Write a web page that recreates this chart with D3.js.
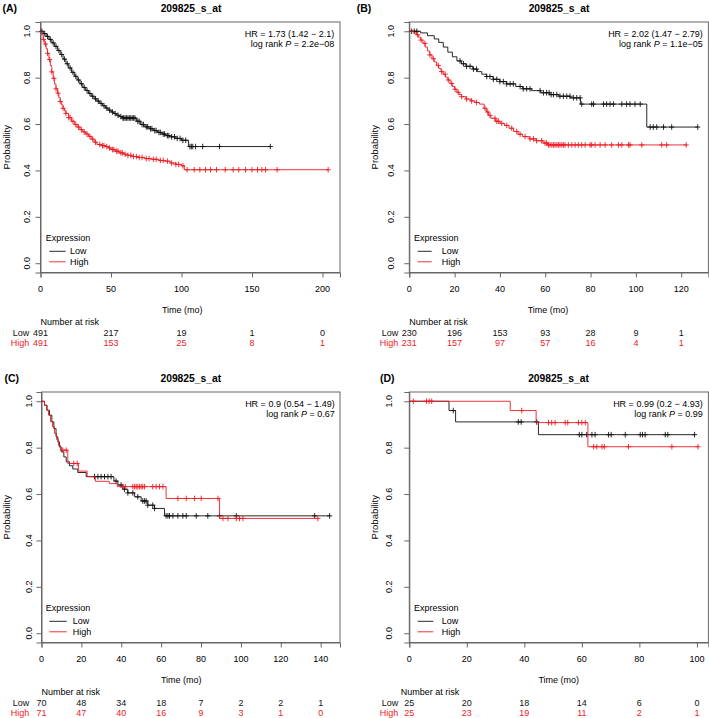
<!DOCTYPE html>
<html><head><meta charset="utf-8">
<script src="https://cdn.jsdelivr.net/npm/d3@7/dist/d3.min.js"></script>
<style>body{margin:0;background:#fff}</style>
</head><body>
<script>
// ---------------- DATA ----------------
const probeTitle = "209825_s_at";
const panelIds = ["A","B","C","D"];
const hrLabels = ["HR = 1.73 (1.42 \u2212 2.1)","HR = 2.02 (1.47 \u2212 2.79)","HR = 0.9 (0.54 \u2212 1.49)","HR = 0.99 (0.2 \u2212 4.93)"];
const pLabels = ["2.2e\u221208","1.1e\u221205","0.67","0.99"];
const groupNames = ["Low","High"];
const yTicks = [0,0.2,0.4,0.6,0.8,1.0];

const xTicksA = [0,50,100,150,200];
const xTicksB = [0,20,40,60,80,100,120];
const xTicksC = [0,20,40,60,80,100,120,140];
const xTicksD = [0,20,40,60,80,100];

const riskLowA = [491,217,19,1,0];
const riskHighA = [491,153,25,8,1];
const riskLowB = [230,196,153,93,28,9,1];
const riskHighB = [231,157,97,57,16,4,1];
const riskLowC = [70,48,34,18,7,2,2,1];
const riskHighC = [71,47,40,16,9,3,1,0];
const riskLowD = [25,20,18,14,6,0];
const riskHighD = [25,23,19,11,2,1];

// survival steps [time, survival after event]
const lowStepsA = [[2,0.99],[4,0.978],[6,0.965],[8,0.95],[10,0.935],[12,0.917],[14,0.9],[16,0.88],[18,0.86],[20,0.842],[22,0.823],[24,0.806],[26,0.79],[28,0.774],[30,0.758],[32,0.745],[34,0.732],[36,0.72],[38,0.709],[40,0.699],[42,0.689],[44,0.679],[46,0.669],[48,0.66],[50,0.652],[52,0.645],[54,0.638],[56,0.632],[58,0.626],[68,0.612],[71,0.598],[74,0.588],[77,0.58],[80,0.572],[83,0.564],[86,0.557],[89,0.55],[92,0.545],[96,0.538],[100,0.53],[105,0.503]];
const lowCensA = [1,3,5,7,9,11,13,15,17,19,21,23,25,27,29,31,33,35,37,39,41,43,45,47,49,51,53,55,57,58.5,59,60,61,62,63,64,65,66,67,69,70,72,73,75,76,78,79,81,82,84,85,87,88,90,91,93,95,97,99,101,103,106,107,108,110,115,127,163];
const highStepsA = [[1,0.985],[2,0.965],[3,0.945],[4,0.925],[5,0.905],[6,0.878],[7,0.852],[8,0.825],[9,0.797],[10,0.772],[11,0.752],[12,0.733],[13,0.714],[14,0.697],[15,0.682],[16,0.668],[17,0.657],[18,0.646],[20,0.628],[22,0.612],[24,0.598],[26,0.587],[28,0.576],[30,0.566],[32,0.557],[34,0.547],[36,0.535],[38,0.522],[40,0.512],[43,0.507],[46,0.503],[48,0.497],[50,0.49],[53,0.483],[56,0.476],[59,0.47],[62,0.465],[65,0.46],[69,0.456],[74,0.451],[79,0.448],[84,0.443],[88,0.44],[92,0.432],[96,0.426],[100,0.42],[102,0.403]];
const highCensA = [2,3.5,5,6.5,8,9.5,11,12.5,14,16,18,20,21,23,25,27,29,31,33,35,37,39,42,44,45,47,49,51,52,54,55,57,58,60,62,64,66,68,70,72,75,77,80,82,85,87,90,93,96,98,101,104,109,113,117,120.6,124.8,131,136.6,140.6,145.4,150,153.9,157,159.6,167.8,204];

const lowStepsB = [[5,0.993],[8,0.981],[11,0.967],[13,0.952],[15,0.932],[17,0.91],[19,0.89],[21,0.872],[23,0.86],[25,0.849],[28,0.837],[30,0.826],[32,0.815],[34,0.805],[37,0.793],[40,0.783],[43,0.773],[47,0.762],[50,0.752],[54,0.744],[58,0.735],[62,0.727],[66,0.72],[71,0.713],[75.5,0.686],[104.8,0.587]];
const lowCensB = [1.05,2.2,3.3,22.4,23.9,25.3,26.8,28.3,29.7,34.2,35.6,37.1,38.6,40,41.5,43,44.5,45.9,48.9,50.3,51.8,53.3,57.7,59.2,60.6,61.7,62.6,63.6,65.1,66.5,68,69.5,70.9,72.4,73.9,75.4,76.1,80.5,81.3,85.7,87.1,88.6,90.1,93.8,95.9,97.4,99.6,101.9,106.3,107.7,109.2,112.2,115.8,127.3];
const highStepsB = [[2,0.993],[3,0.985],[4,0.975],[5,0.962],[6,0.948],[7,0.932],[8,0.915],[9,0.898],[10,0.882],[11,0.868],[12,0.853],[13,0.84],[14,0.826],[15,0.815],[16,0.802],[17,0.79],[18,0.775],[19,0.762],[20,0.75],[21,0.737],[22,0.727],[23,0.718],[25,0.708],[27,0.7],[29,0.693],[31,0.686],[33,0.668],[34,0.652],[35,0.638],[36,0.625],[38,0.612],[40,0.603],[42,0.594],[44,0.582],[46,0.568],[48,0.556],[50,0.546],[53,0.536],[56,0.528],[59,0.518],[61,0.51]];
const highCensB = [3.7,5.2,6.9,9.1,10.6,12.8,14.3,15.8,17.2,18.7,20.2,21.6,23.1,25.3,27.5,29.7,33.4,34.6,35.6,37.8,38.6,39.3,40.8,43,45.2,47.4,48.9,51.1,53.3,54.8,56.2,58.4,59.9,60.6,61.4,62.1,62.9,63.6,64.3,65.1,65.8,66.5,67.3,68,68.7,70.2,71.7,73.2,74.6,76.1,77.6,79.8,80.5,82,84.2,86.4,89.3,92.3,93.8,96.7,97.4,102.6,111.4,113.6,122.2];

const lowStepsC = [[1.5,0.983],[2.8,0.961],[4,0.94],[5.2,0.911],[6.2,0.882],[7.3,0.847],[8.2,0.825],[9,0.803],[9.9,0.782],[11.2,0.76],[12.4,0.739],[14,0.722],[15.7,0.708],[18.2,0.693],[22.4,0.675],[36.3,0.656],[38.3,0.639],[40.8,0.621],[43.3,0.605],[46.7,0.588],[50,0.57],[53.3,0.552],[56.7,0.538],[61.7,0.506]];
const lowCensC = [26.6,28.3,29.9,31.6,33.3,34.9,37.4,39.9,41.6,43.3,45.8,48.3,50.8,51.7,52.5,53.3,55.8,56.7,62.5,63.4,64.2,65.9,68.4,70.9,72.6,77.6,83.4,89.3,97.7,137,144.5];
const highStepsC = [[1.5,0.983],[2.5,0.962],[3.5,0.94],[4.5,0.912],[5.5,0.89],[6.5,0.862],[7.5,0.836],[8.5,0.81],[9.5,0.789],[13.2,0.732],[18.5,0.699],[22.9,0.675],[27,0.655],[34,0.645],[38,0.632],[62.5,0.581],[89.3,0.495]];
const highCensC = [10.7,12.4,16.2,17.9,40.8,42,45.8,46.7,47.5,48.3,49.2,50,50.8,51.7,55.8,57.5,59.2,60.9,68.4,72.6,76.8,80.1,88.5,91,93.5,97.7,99.3,101,138.6];

const lowStepsD = [[13.8,0.96],[16.1,0.911],[44.9,0.856]];
const lowCensD = [15.3,37.9,38.9,44.3,59.1,60,61.7,63.5,64.6,69.3,70.2,75.1,80.3,81.1,82,89,89.9,99.2];
const highStepsD = [[35.1,0.96],[44.1,0.908],[62.1,0.804]];
const highCensD = [1.4,6,6.9,7.8,39.1,48.4,49.5,50.7,54.2,55.1,58.8,60,61.2,64.1,65.2,67,67.8,76.2,91.3,100.4];

// ---------------- LAYOUT ----------------
const layout = {
  A:{dy:0,   left:40.5,  right:340,   xMax:212.4, labX:2.5,  ytlX:26.7,  probX:7,   hrR:334.3, titleX:191,   xlabX:182.3, exprX:45.7, legL:49.3,  legR:65.7,  legT:70,    riskR:29.3,  narX:40.5},
  B:{dy:0,   left:409.3, right:708.4, xMax:132,   labX:356.7,ytlX:390.7, probX:375, hrR:702.7, titleX:559,   xlabX:548,   exprX:414,  legL:417.7, legR:431.7, legT:441.7, riskR:398.3, narX:409.3},
  C:{dy:370, left:41.5,  right:340,   xMax:149.7, labX:4.5,  ytlX:29,    probX:7,   hrR:334.7, titleX:190.8, xlabX:181.3, exprX:45.7, legL:49.3,  legR:66.7,  legT:72.7,  riskR:29.3,  narX:41.5},
  D:{dy:370, left:409.3, right:708.4, xMax:104,   labX:380,  ytlX:389,   probX:375, hrR:702.7, titleX:558.5, xlabX:558.8, exprX:414,  legL:417.7, legR:433.3, legT:441.7, riskR:398.3, narX:400.7}
};

const panelData = {
  A:{ticks:xTicksA, riskLow:riskLowA, riskHigh:riskHighA, low:{steps:lowStepsA,cens:lowCensA}, high:{steps:highStepsA,cens:highCensA}},
  B:{ticks:xTicksB, riskLow:riskLowB, riskHigh:riskHighB, low:{steps:lowStepsB,cens:lowCensB}, high:{steps:highStepsB,cens:highCensB}},
  C:{ticks:xTicksC, riskLow:riskLowC, riskHigh:riskHighC, low:{steps:lowStepsC,cens:lowCensC}, high:{steps:highStepsC,cens:highCensC}},
  D:{ticks:xTicksD, riskLow:riskLowD, riskHigh:riskHighD, low:{steps:lowStepsD,cens:lowCensD}, high:{steps:highStepsD,cens:highCensD}}
};

const RED = "#ec1c24", BLACK = "#111", AXIS = "#666";
const FONT = "'Liberation Sans', Arial, Helvetica, sans-serif";

const svg = d3.select("body").append("svg").attr("width",709).attr("height",718)
  .style("font-family",FONT);
svg.append("rect").attr("width",709).attr("height",718).attr("fill","#fff");

function survAt(steps,t){ let s=1; for(const [ts,v] of steps){ if(ts<=t) s=v; else break; } return s; }

panelIds.forEach((id,i)=>{
  const L = layout[id], D = panelData[id];
  const top = 22 + L.dy, bottom = 272.5 + L.dy;
  const x = d3.scaleLinear().domain([0,L.xMax]).range([L.left,L.right]);
  const y = d3.scaleLinear().domain([-0.04,1.04]).range([bottom,top]);
  const g = svg.append("g");

  // panel label and title
  g.append("text").attr("x",L.labX).attr("y",8.5+L.dy).attr("dy","0.35em")
    .attr("font-size","10.5px").attr("font-weight","bold").text("(" + id + ")");
  g.append("text").attr("x",L.titleX).attr("y",8+L.dy).attr("dy","0.35em").attr("text-anchor","middle")
    .attr("font-size","10.3px").attr("font-weight","bold").text(probeTitle);

  // box
  g.append("rect").attr("x",L.left).attr("y",top).attr("width",L.right-L.left).attr("height",bottom-top)
    .attr("fill","none").attr("stroke",AXIS).attr("stroke-width",1);

  // x axis
  const xa = d3.axisBottom(x).tickValues(D.ticks).tickSize(5).tickFormat(d3.format("d"));
  const gx = g.append("g").attr("transform",`translate(0,${bottom})`).call(xa);
  gx.select(".domain").attr("stroke",AXIS);
  gx.selectAll(".tick line").attr("stroke",AXIS);
  gx.selectAll(".tick text").remove();
  D.ticks.forEach(t=>{
    g.append("text").attr("x",x(t)).attr("y",289.3+L.dy).attr("dy","0.35em").attr("text-anchor","middle")
      .attr("font-size","9px").text(t);
  });

  // y axis
  const ya = d3.axisLeft(y).tickValues(yTicks).tickSize(5);
  const gy = g.append("g").attr("transform",`translate(${L.left},0)`).call(ya);
  gy.select(".domain").attr("stroke",AXIS);
  gy.selectAll(".tick line").attr("stroke",AXIS);
  gy.selectAll(".tick text").remove();
  yTicks.forEach(v=>{
    g.append("text").attr("transform",`translate(${L.ytlX},${y(v)}) rotate(-90)`).attr("dy","0.35em")
      .attr("text-anchor","middle").attr("font-size","9px").text(d3.format(".1f")(v));
  });
  g.append("text").attr("transform",`translate(${L.probX},${(top+bottom)/2}) rotate(-90)`).attr("dy","0.35em")
    .attr("text-anchor","middle").attr("font-size","9.5px").text("Probability");

  // x label
  g.append("text").attr("x",L.xlabX).attr("y",310+L.dy).attr("dy","0.35em").attr("text-anchor","middle")
    .attr("font-size","9px").text("Time (mo)");

  // curves
  [["low",BLACK],["high",RED]].forEach(([k,col])=>{
    const S = D[k];
    const end = Math.max(d3.max(S.cens), S.steps[S.steps.length-1][0]);
    const pts = [[0,1], ...S.steps, [end, S.steps[S.steps.length-1][1]]];
    const line = d3.line().x(d=>x(d[0])).y(d=>y(d[1])).curve(d3.curveStepAfter);
    g.append("path").attr("d",line(pts)).attr("fill","none").attr("stroke",col).attr("stroke-width",0.9);
    const cp = d3.path();
    S.cens.forEach(t=>{
      const cx = x(t), cy = y(survAt(S.steps,t));
      cp.moveTo(cx-2.6,cy); cp.lineTo(cx+2.6,cy);
      cp.moveTo(cx,cy-2.8); cp.lineTo(cx,cy+2.8);
    });
    g.append("path").attr("d",cp.toString()).attr("fill","none").attr("stroke",col).attr("stroke-width",0.9);
  });

  // HR text
  g.append("text").attr("x",L.hrR).attr("y",34.3+L.dy).attr("dy","0.35em").attr("text-anchor","end")
    .attr("font-size","9px").text(hrLabels[i]);
  const pt = g.append("text").attr("x",L.hrR).attr("y",44.3+L.dy).attr("dy","0.35em").attr("text-anchor","end")
    .attr("font-size","9px");
  pt.append("tspan").text("log rank ");
  pt.append("tspan").attr("font-style","italic").text("P");
  pt.append("tspan").text(" = " + pLabels[i]);

  // legend
  g.append("text").attr("x",L.exprX).attr("y",237.7+L.dy).attr("dy","0.35em").attr("font-size","9px").text("Expression");
  [[BLACK,251.3],[RED,261.8]].forEach(([col,yy],j)=>{
    g.append("line").attr("x1",L.legL).attr("x2",L.legR).attr("y1",yy+L.dy).attr("y2",yy+L.dy)
      .attr("stroke",col).attr("stroke-width",0.9);
    g.append("text").attr("x",L.legT).attr("y",yy+L.dy).attr("dy","0.35em").attr("font-size","9px").text(groupNames[j]);
  });

  // number at risk
  g.append("text").attr("x",L.narX).attr("y",321.7+L.dy).attr("dy","0.35em").attr("font-size","9px").text("Number at risk");
  [[D.riskLow,BLACK,332.7],[D.riskHigh,RED,343.2]].forEach(([arr,col,yy],j)=>{
    g.append("text").attr("x",L.riskR).attr("y",yy+L.dy).attr("dy","0.35em").attr("text-anchor","end")
      .attr("font-size","9px").attr("fill",col).text(groupNames[j]);
    arr.forEach((n,k)=>{
      g.append("text").attr("x",x(D.ticks[k])).attr("y",yy+L.dy).attr("dy","0.35em").attr("text-anchor","middle")
        .attr("font-size","9px").attr("fill",col).text(n);
    });
  });
});
</script>
</body></html>
